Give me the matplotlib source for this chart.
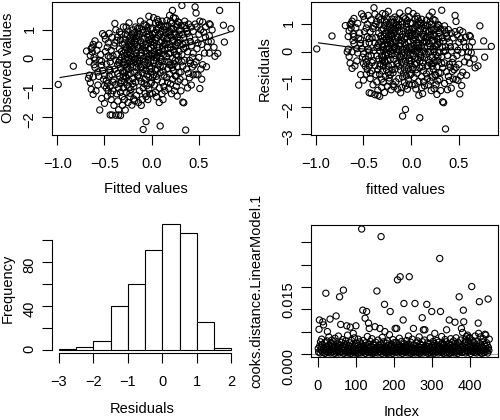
import numpy as np
import matplotlib
matplotlib.use("Agg")
import matplotlib.pyplot as plt

plt.rcParams['font.family'] = ['Liberation Sans', 'DejaVu Sans']
plt.rcParams['font.size'] = 10.5

fitted_c = [
    -99, -83, -69, -64, -62, -63, -66, -62, -64, -62,
    -66, -60, -65, -61, -67, -60, -63, -61, -65, -60,
    -55, -53, -52, -50, -48, -50, -46, -43, -55, -53,
    -50, -52, -58, -56, -54, -57, -49, -47, -46, -48,
    -45, -51, -47, -44, -46, -59, -57, -45, -49, -53,
    -47, -56, -50, -45, -48,
    -42, -38, -35, -33, -39, -34, -37, -40, -43, -41,
    -38, -36, -44, -42, -40, -38, -35, -33, -31, -36,
    -40, -43, -37, -44, -41, -32, -34, -31, -33, -35,
    -32, -30, -34, -31, -36, -38, -32, -30, -30, -33,
    -31, -35, -42, -44, -39, -37, -33, -30, -41, -36,
    -34, -32, -39, -44, -30,
    -28, -21, -25, -29, -23, -18, -16, -27, -22, -19,
    -26, -29, -24, -17, -20, -28, -25, -22, -18, -15,
    -27, -24, -20, -16, -29, -26, -23, -19, -15, -28,
    -25, -21, -17, -29, -26, -23, -19, -16, -28, -24,
    -20, -17, -27, -22, -18, -15, -29, -25, -21, -17,
    -28, -23, -19, -16, -26, -21, -18, -25, -20, -27,
    -24, -17, -22, -18, -26, -20, -24, -27, -15, -21,
    -29, -16, -23, -19, -28, -15, -22, -25, -18, -24,
    -9, -6, -3, -12, -8, -4, -14, -10, -6, -2,
    -13, -9, -5, -1, -11, -7, -3, -14, -10, -6,
    -2, -12, -8, -4, -1, -13, -9, -5, -2, -11,
    -7, -3, -14, -10, -6, -1, -12, -8, -4, -2,
    -13, -9, -5, -1, -11, -7, -3, -13, -5, -1,
    -9, -4, -12, -7, -3, -10, -6, -14, -2, -8,
    -4, -11, -6, -1, -9, -13, -5, -2, -7, -10,
    9, 12, 5, 1, 14, 8, 3, 11, 6, 1,
    13, 9, 4, 0, 12, 7, 2, 14, 10, 5,
    1, 13, 8, 3, 11, 6, 2, 14, 9, 4,
    0, 12, 7, 3, 10, 5, 1, 13, 8, 4,
    11, 6, 2, 14, 9, 5, 1, 12, 7, 3,
    10, 6, 2, 13, 8, 4, 0, 11, 7, 3,
    14, 9, 5, 1, 12, 8, 4, 10, 6, 2,
    13, 9, 0, 7, 11,
    22, 19, 25, 16, 28, 21, 17, 26, 23, 29,
    18, 24, 20, 27, 16, 22, 28, 19, 25, 17,
    23, 29, 20, 26, 16, 22, 28, 18, 24, 21,
    27, 17, 23, 29, 19, 25, 16, 22, 28, 20,
    26, 18, 24, 21, 27, 15, 21, 27, 19, 25,
    17, 23, 29, 16, 26, 20, 24, 18, 28, 22,
    26, 19, 15, 29, 23, 21, 27, 17, 25, 20,
    32, 36, 33, 34, 31, 38, 42, 35, 40, 44,
    31, 37, 33, 41, 35, 43, 32, 38, 34, 42,
    36, 30, 40, 33, 44, 37, 31, 39, 35, 42,
    30, 38, 34, 41, 36, 44, 32, 39, 43, 30,
    37, 33, 40, 35, 45,
    46, 47, 54, 61, 47, 49, 51, 58, 48, 52,
    55, 50, 57, 46, 53, 48, 56, 50, 47, 54,
    52, 59, 46, 51, 57, 49, 53, 60,
    72, 76, 84, 77, 70, 67, 62, 64, 61, 63, 66, 61,
]
observed_c = [
    -88, -25, 27, 36, 50, 24, -56, -62, -105, -122,
    -10, -4, 12, 5, -67, -30, 40, -20, -82, 62,
    -5, -22, -40, -57, -74, -92, -110, -120, -176, -136,
    -153, 87, 30, 48, 15, -45, 68, 40, 10, -18,
    -35, -70, -128, -193, 55, -110, -90, -60, 25, -8,
    -85, -60, 80, 88, -100,
    -193, -194, -193, -195, 122, 93, 64, 45, 30, 10,
    -5, -20, -40, -55, -72, -88, -100, -115, -130, -145,
    -160, -140, -120, -95, -110, -75, -60, -45, -30, -12,
    5, 20, 35, 50, 75, 100, 85, -10, -60, -85,
    -160, -175, 75, -10, -35, 15, 65, 110, -80, -50,
    -5, 25, 55, 5, -100,
    -176, -159, -150, -140, -130, -145, -125, -115, -105, -95,
    -90, -80, -75, -80, -68, -62, -55, -50, -45, -58,
    -40, -35, -28, -30, -22, -15, -10, -12, -5, -2,
    4, 8, 2, 12, 18, 22, 15, 20, 28, 32,
    36, 30, 42, 46, 50, 44, 55, 58, 62, 58,
    68, 72, 75, 70, 82, 86, 90, 96, 100, 110,
    124, 110, -20, -2, -28, -85, -100, -65, -15, 40,
    -48, 80, -118, -138, 85, 105, 18, -5, 64, 48,
    -243, -216, 147, 130, 120, 110, -150, -140, -130, -120,
    -110, -100, -92, -85, -78, -70, -62, -55, -48, -40,
    -34, -28, -22, -16, -10, -4, 2, 8, 14, 20,
    26, 32, 38, 44, 50, 56, 62, 68, 74, 80,
    86, 92, 98, 104, -160, -118, -105, -65, -55, -45,
    -35, -2, 12, 40, 65, 100, 115, 75, -25, -85,
    -140, -30, 20, 38, 55, 105, 85, 125, -8, 30,
    -231, -140, -130, -120, -110, -100, -90, -80, -72, -64,
    -56, -48, -40, -32, -26, -20, -14, -8, -2, 4,
    10, 16, 22, 28, 34, 40, 46, 52, 58, 64,
    70, 76, 82, 88, 94, 100, 106, 112, 118, 124,
    130, 136, 142, 100, 85, 72, 60, 45, 30, 15,
    -10, -35, -55, -95, -150, -115, 20, 62, 105, 55,
    30, 5, -60, 85, -42, 40, 92, 115, 12, -5,
    70, -25, -80, 128, -120,
    167, 150, 140, 132, 128, 122, 115, 110, 104, 98,
    92, 86, 80, 74, 68, 62, 56, 50, 44, 38,
    32, 26, 20, 14, 8, 2, -4, -10, -16, -22,
    -28, -34, -40, -46, -52, -58, -64, -70, -78, -86,
    -94, -102, -110, -120, -128, 112, 105, 118, 95, 82,
    72, 65, 85, 52, 48, 40, 25, 18, 10, -30,
    -60, -20, 90, 125, 142, 75, 55, -80, -5, 130,
    184, -245, -149, -151, -110, -100, -90, -80, -65, -55,
    -45, -35, -25, -15, -5, 5, 15, 25, 35, 45,
    55, 65, 75, 85, 95, 105, 115, 120, 130, 110,
    100, 88, 72, 60, 40, 20, -10, -50, -28, -70,
    95, 50, -5, 115, -20,
    179, 158, 127, 121, -53, -55, -102, -27, 110, 100,
    92, 85, 75, 65, 50, 35, 20, 5, -10, -20,
    -35, 40, 120, 130, 110, 55, -70, 60,
    167, 116, 104, 58, 19, 9, 118, 100, 80, 60, 40, 20,
]

# smooth line through the residuals
smooth_x = [-0.97, -0.8, -0.6, -0.4, -0.2, 0.0, 0.2, 0.4, 0.6, 0.82]
smooth_res = [0.33, 0.25, 0.15, 0.06, 0.06, 0.08, 0.08, 0.08, 0.09, 0.10]

# histogram of residuals
hist_left = [-3.0, -2.5, -2.0, -1.5, -1.0, -0.5, 0.0, 0.5, 1.0, 1.5]
hist_counts = [1, 3, 8, 40, 60, 91, 114, 106, 25, 2]

# cooks distance per observation, units of 1e-4
cooks_e4 = [
    12, 4, 55, 76, 18, 2, 27, 9, 15, 33,
    6, 21, 72, 3, 65, 14, 8, 25, 1, 11,
    136, 17, 5, 29, 50, 10, 3, 19, 38, 7,
    13, 78, 2, 24, 9, 16, 31, 4, 20, 11,
    6, 27, 14, 1, 35, 8, 18, 85, 12, 3,
    22, 7, 15, 40, 10, 2, 128, 19, 5, 66,
    13, 26, 4, 9, 32, 17, 143, 1, 11, 23,
    8, 14, 29, 3, 20, 63, 6, 42, 12, 2,
    18, 9, 25, 5, 60, 15, 1, 30, 11, 7,
    21, 4, 46, 13, 8, 36, 2, 17, 10, 63,
    5, 24, 12, 1, 19, 33, 7, 14, 3, 27,
    9, 16, 2, 22, 280, 11, 6, 98, 30, 4,
    18, 8, 13, 80, 1, 25, 10, 95, 5, 39,
    15, 3, 69, 21, 57, 7, 12, 28, 2, 17,
    9, 34, 5, 14, 1, 23, 11, 6, 19, 61,
    3, 26, 13, 8, 141, 16, 2, 31, 10, 20,
    6, 14, 57, 4, 22, 263, 9, 1, 37, 12,
    18, 5, 27, 10, 111, 50, 3, 15, 8, 24,
    1, 13, 29, 6, 19, 2, 11, 43, 7, 95,
    16, 4, 21, 9, 14, 1, 32, 12, 5, 25,
    8, 18, 57, 3, 11, 26, 57, 6, 166, 15,
    2, 20, 9, 35, 13, 173, 4, 17, 7, 28,
    11, 1, 16, 76, 6, 113, 23, 10, 3, 19,
    14, 5, 30, 8, 21, 2, 12, 40, 9, 173,
    4, 17, 11, 26, 1, 15, 7, 33, 10, 3,
    57, 20, 6, 13, 113, 2, 18, 9, 24, 5,
    12, 29, 3, 16, 8, 38, 1, 14, 22, 7,
    19, 5, 11, 81, 27, 2, 54, 15, 8, 31,
    54, 10, 4, 18, 13, 111, 6, 25, 1, 16,
    9, 21, 3, 14, 36, 7, 12, 2, 95, 19,
    5, 15, 28, 10, 1, 23, 46, 8, 17, 4,
    13, 30, 6, 20, 11, 2, 26, 9, 16, 214,
    7, 95, 14, 3, 39, 18, 5, 24, 12, 1,
    21, 8, 15, 32, 4, 11, 27, 54, 2, 17,
    10, 6, 23, 13, 76, 1, 19, 8, 34, 14,
    3, 25, 9, 16, 5, 29, 12, 2, 20, 71,
    7, 14, 36, 4, 18, 10, 1, 26, 13, 8,
    128, 22, 5, 15, 31, 9, 57, 3, 17, 48,
    11, 98, 72, 6, 24, 13, 33, 2, 28, 39,
    19, 8, 42, 14, 4, 27, 10, 37, 35, 16,
    1, 21, 7, 151, 12, 30, 5, 18, 9, 25,
    3, 14, 40, 8, 20, 11, 2, 29, 16, 6,
    69, 46, 13, 117, 23, 4, 38, 10, 18, 1,
    15, 27, 7, 34, 12, 3, 21, 9, 44, 17,
    42, 6, 25, 11, 19, 2, 123, 14, 8, 33,
]

assert len(fitted_c) == len(observed_c)
fitted = np.array(fitted_c) / 100
observed = np.array(observed_c) / 100
resid = observed - fitted
sx = np.array(smooth_x)
sres = np.array(smooth_res)
cooks = np.array(cooks_e4) * 1e-4
idx = np.arange(1, len(cooks) + 1)

W, H = 500, 420
fig = plt.figure(figsize=(W / 100, H / 100), dpi=100)


def panel(l, t, r, b):
    # axes placed by pixel edges
    return fig.add_axes([l / W, 1 - b / H, (r - l) / W, (b - t) / H])


def style(ax):
    ax.tick_params(direction='out', length=7, width=0.8, labelsize=10.5)
    ax.tick_params(axis='x', pad=9)
    ax.tick_params(axis='y', labelrotation=90, pad=4)
    for s in ax.spines.values():
        s.set_linewidth(0.8)


def labels(ax, xl, xpos, yl, ypos):
    ax.set_xlabel(xl, va='center')
    ax.xaxis.set_label_coords(xpos[0] / W, 1 - xpos[1] / H, transform=fig.transFigure)
    ax.set_ylabel(yl, va='center', rotation=90)
    ax.yaxis.set_label_coords(ypos[0] / W, 1 - ypos[1] / H, transform=fig.transFigure)


pt = dict(s=20, facecolors='none', edgecolors='black', linewidths=0.8)

# observed vs fitted
ax1 = panel(52, 2, 239, 135)
ax1.scatter(fitted, observed, **pt)
ax1.plot(sx, sres + sx, color='black', lw=0.8)
ax1.set_xlim(-1.056, 0.925)
ax1.set_ylim(-2.62, 1.96)
ax1.set_xticks([-1.0, -0.5, 0.0, 0.5])
ax1.set_xticklabels(['\u22121.0', '\u22120.5', '0.0', '0.5'])
ax1.set_yticks([-2, -1, 0, 1])
style(ax1)
labels(ax1, 'Fitted values', (146, 189), 'Observed values', (8, 68))

# residuals vs fitted
ax2 = panel(311, 2, 498, 135)
ax2.scatter(fitted, resid, **pt)
ax2.plot(sx, sres, color='black', lw=0.8)
ax2.set_xlim(-1.05, 0.91)
ax2.set_ylim(-3.03, 1.82)
ax2.set_xticks([-1.0, -0.5, 0.0, 0.5])
ax2.set_xticklabels(['\u22121.0', '\u22120.5', '0.0', '0.5'])
ax2.set_yticks([-3, -2, -1, 0, 1])
style(ax2)
labels(ax2, 'fitted values', (405, 190), 'Residuals', (265, 69))

# histogram of residuals
ax3 = panel(52, 219, 239, 353)
ax3.bar(hist_left, hist_counts, width=0.5, align='edge', color='white',
        edgecolor='black', linewidth=0.8)
ax3.set_xlim(-3.2, 2.22)
ax3.set_ylim(-2.6, 118.6)
ax3.set_xticks([-3, -2, -1, 0, 1, 2])
ax3.set_xticklabels(['\u22123', '\u22122', '\u22121', '0', '1', '2'])
ax3.set_yticks([0, 20, 40, 60, 80, 100])
ax3.set_yticklabels(['0', '', '40', '', '80', ''])
style(ax3)
ax3.spines['top'].set_visible(False)
ax3.spines['right'].set_visible(False)
ax3.spines['bottom'].set_bounds(-3, 2)
ax3.spines['left'].set_bounds(0, 100)
labels(ax3, 'Residuals', (142, 409), 'Frequency', (8, 288))

# cooks distance by index
ax4 = panel(311, 225, 498, 357)
ax4.axhline(0, color='#a8a8a8', lw=0.8, zorder=1)
ax4.scatter(idx, cooks, zorder=2, **pt)
ax4.set_xlim(-18, 473)
ax4.set_ylim(-0.0007, 0.0289)
ax4.set_xticks([0, 100, 200, 300, 400])
ax4.set_yticks([0, 0.005, 0.010, 0.015, 0.020, 0.025])
ax4.set_yticklabels(['0.000', '', '', '0.015', '', ''])
style(ax4)
labels(ax4, 'Index', (402, 412), 'cooks.distance.LinearModel.1', (256, 291))

fig.savefig('out.png', dpi=100)
